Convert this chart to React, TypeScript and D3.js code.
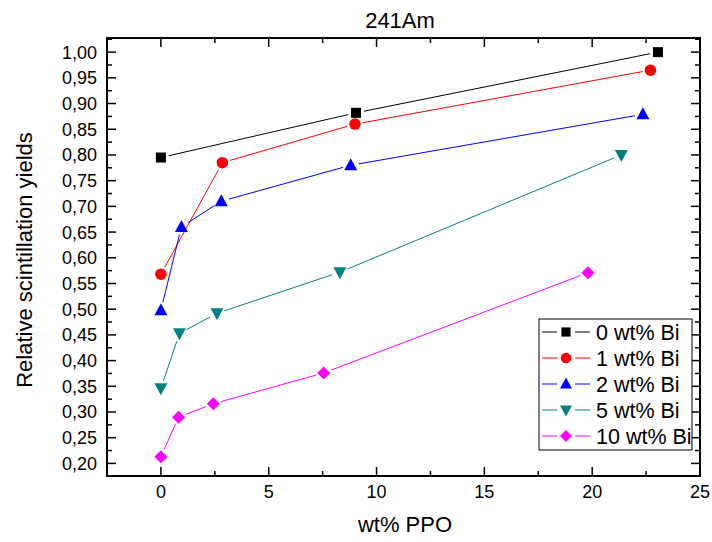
import React from "react";
import * as d3 from "d3";

const title = "241Am";
const xLabel = "wt% PPO";
const yLabel = "Relative scintillation yields";
const seriesNames = ["0 wt% Bi", "1 wt% Bi", "2 wt% Bi", "5 wt% Bi", "10 wt% Bi"];
const seriesColors = ["#000000", "#ff0000", "#0000ff", "#008080", "#ff00ff"];
const seriesShapes = ["square", "circle", "triangle", "triangleDown", "diamond"];

const x0 = [0, 9.05, 23.05];
const y0 = [0.795, 0.882, 1.0];
const x1 = [0, 2.85, 9.0, 22.7];
const y1 = [0.568, 0.785, 0.86, 0.965];
const x2 = [0, 0.95, 2.8, 8.8, 22.35];
const y2 = [0.498, 0.66, 0.71, 0.78, 0.879];
const x5 = [0, 0.86, 2.6, 8.3, 21.35];
const y5 = [0.346, 0.453, 0.492, 0.572, 0.8];
const x10 = [0, 0.82, 2.43, 7.55, 19.8];
const y10 = [0.213, 0.29, 0.316, 0.376, 0.571];

const xsAll = [x0, x1, x2, x5, x10];
const ysAll = [y0, y1, y2, y5, y10];

const xTicks = [0, 5, 10, 15, 20, 25];
const yTicks = [0.2, 0.25, 0.3, 0.35, 0.4, 0.45, 0.5, 0.55, 0.6, 0.65, 0.7, 0.75, 0.8, 0.85, 0.9, 0.95, 1.0];

const W = 712, H = 542;
const L = 107, R = 700, T = 38, B = 476;
const FONT = "'Liberation Sans', Arial, sans-serif";

function Marker({ shape, cx, cy, color, s = 1 }: { shape: string; cx: number; cy: number; color: string; s?: number }) {
  if (shape === "square") return <rect x={cx - 5 * s} y={cy - 5 * s} width={10 * s} height={10 * s} fill={color} />;
  if (shape === "circle") return <circle cx={cx} cy={cy} r={5.75 * s} fill={color} />;
  if (shape === "triangle")
    return <path d={`M${cx},${cy - 7 * s}L${cx + 6.5 * s},${cy + 5 * s}L${cx - 6.5 * s},${cy + 5 * s}Z`} fill={color} />;
  if (shape === "triangleDown")
    return <path d={`M${cx},${cy + 7 * s}L${cx + 6.5 * s},${cy - 5 * s}L${cx - 6.5 * s},${cy - 5 * s}Z`} fill={color} />;
  return <path d={`M${cx},${cy - 6.5 * s}L${cx + 6.5 * s},${cy}L${cx},${cy + 6.5 * s}L${cx - 6.5 * s},${cy}Z`} fill={color} />;
}

export default function App() {
  const x = d3.scaleLinear().domain([-2.5, 25]).range([L, R]);
  const y = d3.scaleLinear().domain([0.1755, 1.0275]).range([B, T]);
  const line = d3.line<[number, number]>().x((d) => d[0]).y((d) => d[1]);

  const xMinor = d3.range(-2.5, 25.01, 2.5).filter((v) => !xTicks.includes(v));
  const yMinor = d3.range(0.175, 1.03, 0.05).map((v) => +v.toFixed(3)).filter((v) => v > 0.176 && v < 1.027);

  const fmt = (v: number) => v.toFixed(2).replace(".", ",");
  const gap = 8;

  const segments = (xs: number[], ys: number[]) => {
    const pts = xs.map((v, j) => [x(v), y(ys[j])] as [number, number]);
    const out: string[] = [];
    for (let j = 0; j < pts.length - 1; j++) {
      const [ax, ay] = pts[j];
      const [bx, by] = pts[j + 1];
      const len = Math.hypot(bx - ax, by - ay);
      if (len <= 2 * gap) continue;
      const ux = (bx - ax) / len, uy = (by - ay) / len;
      out.push(line([[ax + ux * gap, ay + uy * gap], [bx - ux * gap, by - uy * gap]]) || "");
    }
    return out;
  };

  return (
    <svg width={W} height={H} style={{ position: "absolute", left: 0, top: 0, background: "#fff" }} fontFamily={FONT}>
      <rect x={0} y={0} width={W} height={H} fill="#fff" />
      <text x={400} y={28} textAnchor="middle" fontSize={22}>{title}</text>
      <text x={405} y={532} textAnchor="middle" fontSize={22}>{xLabel}</text>
      <text transform={`translate(32,260) rotate(-90)`} textAnchor="middle" fontSize={22}>{yLabel}</text>

      {/* series */}
      {xsAll.map((xs, i) => (
        <g key={i}>
          {segments(xs, ysAll[i]).map((d, k) => (
            <path key={k} d={d} fill="none" stroke={seriesColors[i]} strokeWidth={1} />
          ))}
          {xs.map((v, j) => (
            <Marker key={j} shape={seriesShapes[i]} cx={x(v)} cy={y(ysAll[i][j])} color={seriesColors[i]} />
          ))}
        </g>
      ))}

      {/* ticks */}
      <g stroke="#000" strokeWidth={1.5}>
        {xTicks.map((v) => (
          <g key={"xt" + v}>
            <line x1={x(v)} x2={x(v)} y1={B} y2={B - 9} />
            <line x1={x(v)} x2={x(v)} y1={T} y2={T + 9} />
          </g>
        ))}
        {xMinor.map((v) => (
          <g key={"xm" + v}>
            <line x1={x(v)} x2={x(v)} y1={B} y2={B - 5} />
            <line x1={x(v)} x2={x(v)} y1={T} y2={T + 5} />
          </g>
        ))}
        {yTicks.map((v) => (
          <g key={"yt" + v}>
            <line x1={L} x2={L + 9} y1={y(v)} y2={y(v)} />
            <line x1={R} x2={R - 9} y1={y(v)} y2={y(v)} />
          </g>
        ))}
        {yMinor.map((v) => (
          <g key={"ym" + v}>
            <line x1={L} x2={L + 5} y1={y(v)} y2={y(v)} />
            <line x1={R} x2={R - 5} y1={y(v)} y2={y(v)} />
          </g>
        ))}
      </g>
      <rect x={L} y={T} width={R - L} height={B - T} fill="none" stroke="#000" strokeWidth={2} />

      {xTicks.map((v) => (
        <text key={"xl" + v} x={x(v)} y={498} textAnchor="middle" fontSize={18}>{v}</text>
      ))}
      {yTicks.map((v) => (
        <text key={"yl" + v} x={97} y={y(v) + 6.5} textAnchor="end" fontSize={18}>{fmt(v)}</text>
      ))}

      {/* legend */}
      <rect x={539} y={319} width={153} height={131} fill="#fff" stroke="#000" strokeWidth={1} />
      {seriesNames.map((n, i) => {
        const cy = 332 + i * 26;
        return (
          <g key={n}>
            <line x1={542} x2={557} y1={cy} y2={cy} stroke={seriesColors[i]} strokeWidth={1} />
            <line x1={575} x2={590} y1={cy} y2={cy} stroke={seriesColors[i]} strokeWidth={1} />
            <Marker shape={seriesShapes[i]} cx={566} cy={cy} color={seriesColors[i]} s={0.92} />
            <text x={596} y={cy + 8} fontSize={21.5}>{n}</text>
          </g>
        );
      })}
    </svg>
  );
}
